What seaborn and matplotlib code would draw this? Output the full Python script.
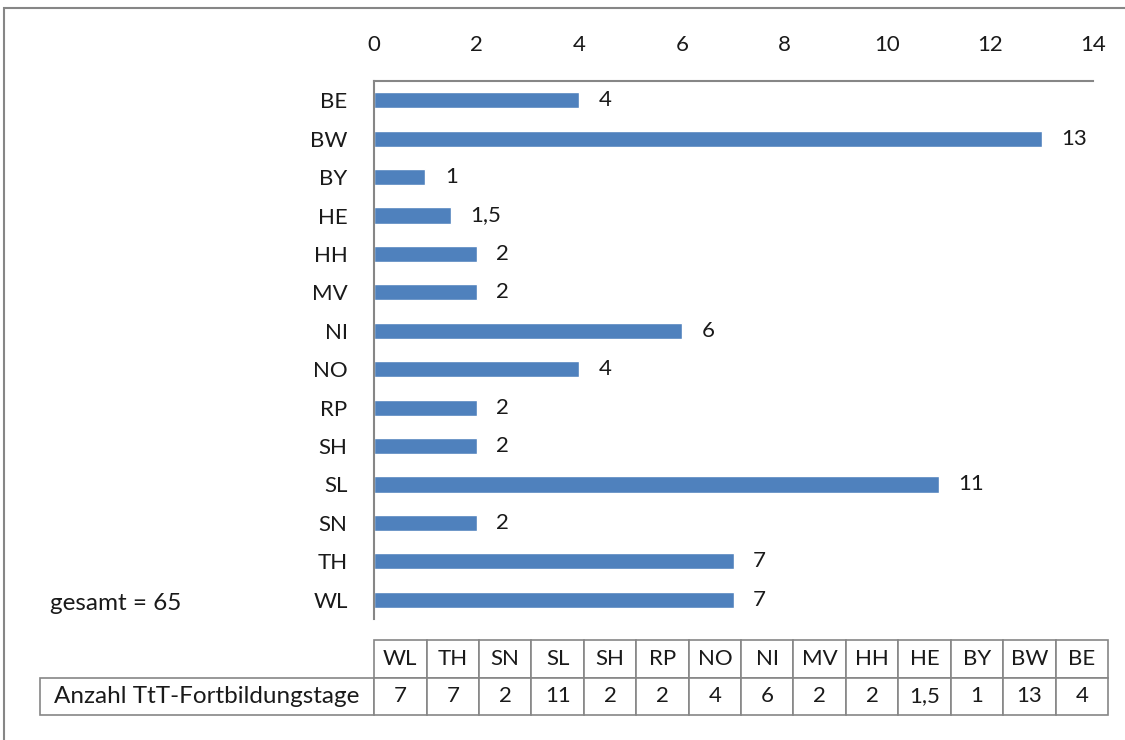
import matplotlib
matplotlib.use('Agg')
import matplotlib.pyplot as plt
import matplotlib.patches as patches
import pandas as pd
import seaborn as sns

# Data
states = ["BE", "BW", "BY", "HE", "HH", "MV", "NI", "NO", "RP", "SH", "SL", "SN", "TH", "WL"]
days = [4, 13, 1, 1.5, 2, 2, 6, 4, 2, 2, 11, 2, 7, 7]
x_ticks = [0, 2, 4, 6, 8, 10, 12, 14]
row_label = "Anzahl TtT-Fortbildungstage"
total_label = "gesamt = 65"

BAR_COLOR = "#4F81BD"
LINE_GRAY = "#868686"
TEXT = "#1a1a1a"
FS = 16
FS_WIDE = 17.5  # lowercase running text looks wider in the reference
FONT = ["Lato", "DejaVu Sans"]


def fmt(v):
    return f"{v:g}".replace(".", ",")


df = pd.DataFrame({"state": states, "days": days})

sns.set_theme(style="white")
plt.rcParams["font.family"] = FONT

W, H = 1125, 740
fig = plt.figure(figsize=(W / 100, H / 100), dpi=100)

# outer border of the chart area
fig.patches.append(patches.Rectangle((4 / W, -0.05), 1.2, 1 - 8 / H + 0.05,
                                     transform=fig.transFigure, fill=False,
                                     edgecolor=LINE_GRAY, linewidth=1.5))

ax = fig.add_axes([374 / W, 1 - 619 / H, (1093 - 374) / W, (619 - 81) / H])
sns.barplot(data=df, x="days", y="state", color=BAR_COLOR, width=0.42,
            saturation=1, orient="h", ax=ax)

ax.set_xlim(0, 14)
ax.set_xticks(x_ticks)
ax.xaxis.tick_top()
ax.tick_params(axis="x", length=0, pad=19, labelsize=FS, colors=TEXT)
ax.tick_params(axis="y", length=0, pad=19, labelsize=FS, colors=TEXT)
ax.set_xlabel("")
ax.set_ylabel("")

for side in ["right", "bottom"]:
    ax.spines[side].set_visible(False)
for side in ["top", "left"]:
    ax.spines[side].set_color(LINE_GRAY)
    ax.spines[side].set_linewidth(1.5)

ax.bar_label(ax.containers[0], labels=[fmt(v) for v in days], padding=14,
             fontsize=FS, color=TEXT)

fig.text(50 / W, 1 - 604 / H, total_label, fontsize=FS_WIDE, va="center",
         ha="left", color=TEXT)

# data table under the chart (columns in reverse order)
tab_ax = fig.add_axes([40 / W, 1 - 715 / H, (1108 - 40) / W, (715 - 640) / H])
tab_ax.axis("off")
rev_states = states[::-1]
rev_vals = [fmt(v) for v in days[::-1]]
total_w = 334 + 52.4 * len(states)
col_w = [334 / total_w] + [52.4 / total_w] * len(states)
tbl = tab_ax.table(cellText=[[""] + rev_states, [row_label] + rev_vals],
                   colWidths=col_w, cellLoc="center", bbox=[0, 0, 1, 1])
tbl.auto_set_font_size(False)
tbl.set_fontsize(FS)
for (r, c), cell in tbl.get_celld().items():
    cell.set_edgecolor(LINE_GRAY)
    cell.set_linewidth(1.2)
    cell.get_text().set_color(TEXT)
    cell.PAD = 0.02
    if r == 0 and c == 0:
        cell.visible_edges = ""
    if r == 1 and c == 0:
        cell._loc = "left"
        cell.get_text().set_fontsize(FS_WIDE)

plt.savefig("out.png", dpi=100)
plt.close()
